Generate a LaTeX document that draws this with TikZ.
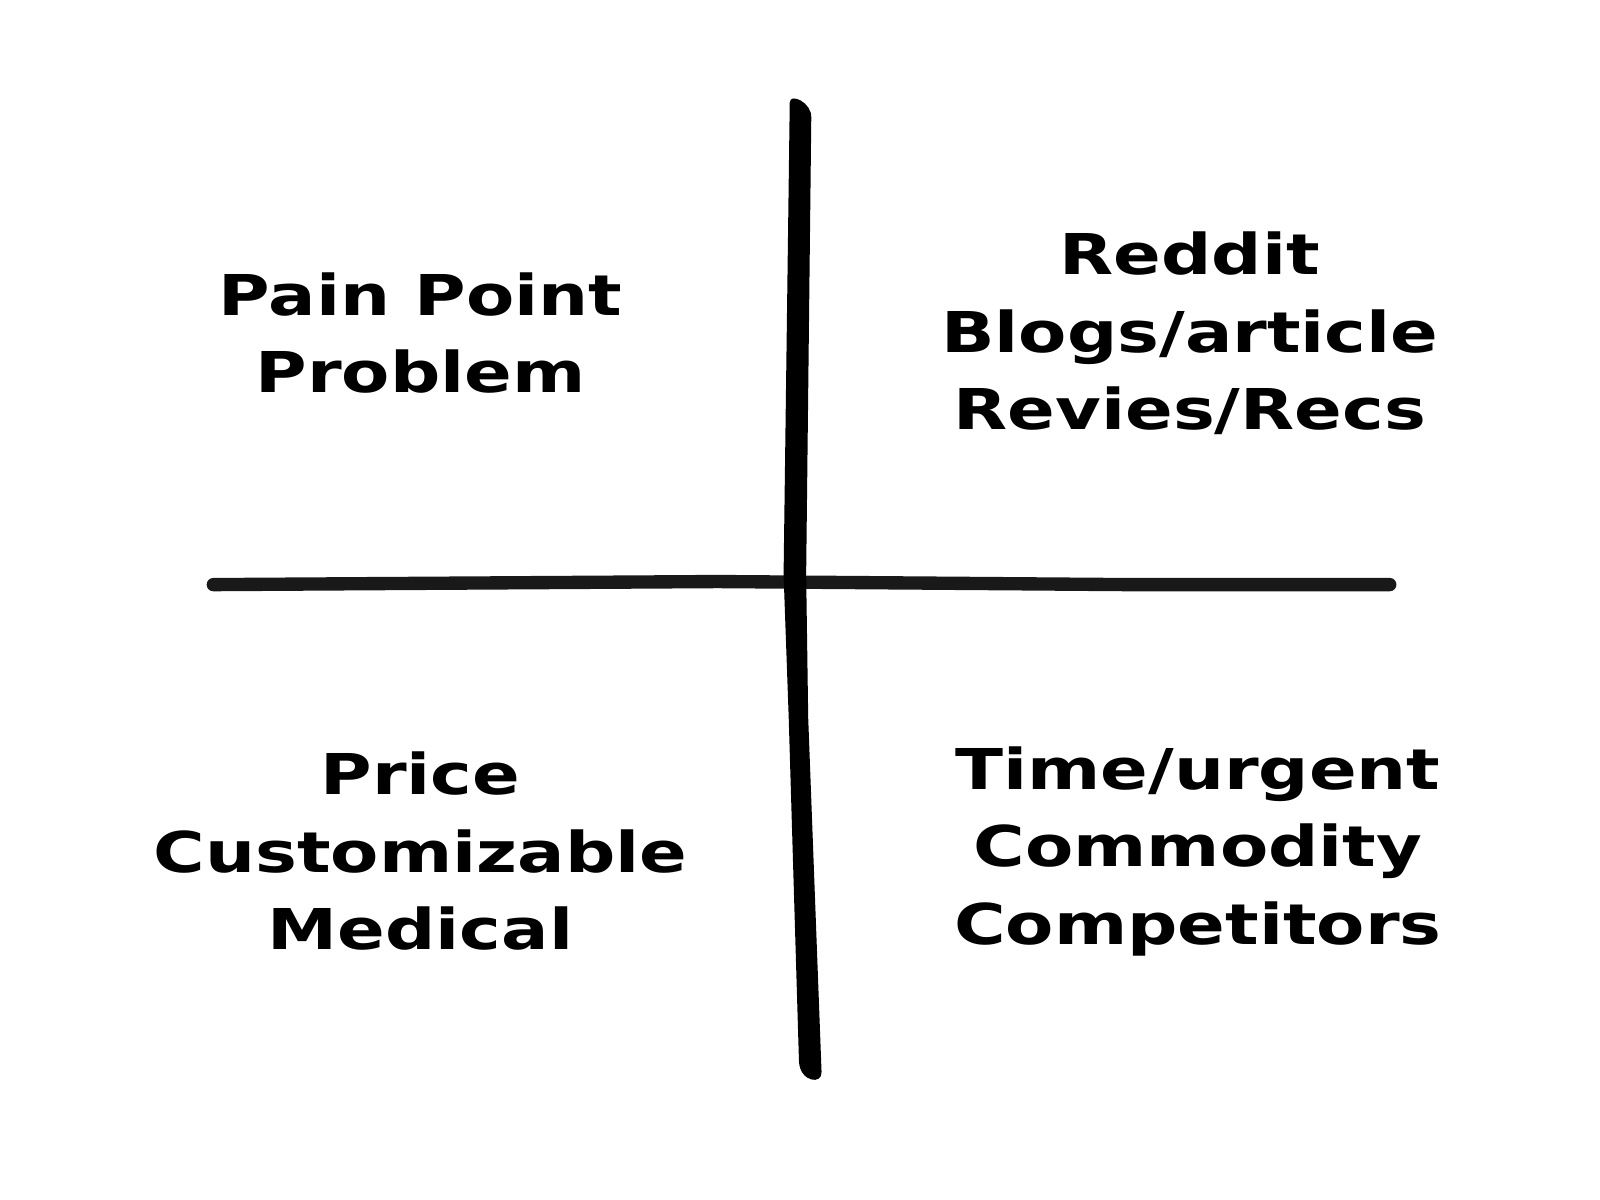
\documentclass[tikz,border=0pt]{standalone}
\usepackage{fontspec}
\setmainfont{DejaVu Sans}[FakeStretch=1.25]
\tikzstyle{quad} = [align=center, font=\fontsize{16}{22}\selectfont\bfseries]
\tikzstyle{axis} = [line width=3.8pt, line cap=round, color=black!90]
\begin{document}
\begin{tikzpicture}[x=0.01026cm, y=-0.01026cm]
\useasboundingbox (0,0) rectangle (1560,1170);
% axes
\coordinate (left) at (208,570);
\coordinate (right) at (1355,570);
\draw[axis] (left) -- (700,567) -- (1100,570) -- (right);
\fill (770,100) .. controls (770,90) and (792,100) .. (791,115)
    -- (786,560) -- (788,700) -- (801,1045)
    .. controls (802,1058) and (780,1055) .. (779,1035)
    -- (769,700) -- (764,560) -- cycle;
% labels
\node[quad] (pain) at (410,325) {Pain Point\\Problem};
\node[quad] (reddit) at (1160,325) {Reddit\\Blogs/article\\Revies/Recs};
\node[quad] (price) at (410,830) {Price\\Customizable\\Medical};
\node[quad] (time) at (1168,830) {Time/urgent\\Commodity\\Competitors};
\end{tikzpicture}
\end{document}
